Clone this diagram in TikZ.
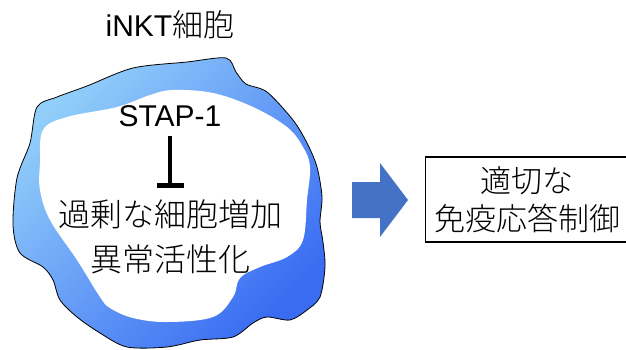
\documentclass[tikz,border=0pt]{standalone}
\usepackage{fontspec}
\setmainfont{Liberation Sans}
\IfFontExistsTF{Noto Sans CJK JP Light}
  {\newfontfamily\jp{Noto Sans CJK JP Light}}
  {\newfontfamily\jp{Noto Sans CJK JP}}
\usetikzlibrary{arrows.meta}
\definecolor{celllight}{RGB}{146,206,250}
\definecolor{celldark}{RGB}{58,108,242}
\definecolor{stepblue}{RGB}{68,114,196}
\tikzset{
  label/.style={inner sep=0pt, font=\fontsize{30}{36}\selectfont},
  jlabel/.style={inner sep=0pt, font=\jp\fontsize{32}{38}\selectfont},
  inhibit/.style={-{Bar[width=27pt, line width=5pt]}, line width=4pt},
  outcome/.style={draw, line width=1.5pt, align=center, inner sep=0pt,
    minimum width=203pt, minimum height=85pt,
    font=\jp\fontsize{31}{38}\selectfont}
}

\begin{document}
\begin{tikzpicture}[x=1pt, y=-1pt]
  \useasboundingbox (0,0) rectangle (626,349);
  % cell body
  \shade[draw=black, line width=0.8pt, top color=celllight, bottom color=celldark,
    shading angle=45]
    plot[smooth cycle, tension=0.5] coordinates {
      (37,107) (57,97) (87,86) (133,68) (187,62) (226,58) (236,72) (246,84)
      (267,92) (293,120) (307,143) (317,167) (322,197) (320,222) (323,242)
      (325,267) (320,297) (307,310) (290,320) (267,317) (253,323) (233,337)
      (200,340) (167,347) (127,347) (100,333) (77,317) (60,300) (53,280)
      (43,267) (20,253) (13,225) (17,178) (30,143)};
  \fill[white]
    plot[smooth cycle, tension=0.6] coordinates {
      (43,130) (67,117) (117,107) (150,95) (173,90) (213,93) (253,107)
      (287,127) (303,147) (310,167) (307,200) (303,240) (287,257) (260,267)
      (240,278) (233,297) (213,317) (167,322) (133,318) (110,308) (100,297)
      (77,260) (50,220) (40,190) (40,163)};

  \node[label] (title) at (170,25) {iNKT{\jp\fontsize{31}{36}\selectfont 細胞}};
  \node[label] (stap) at (170,116) {STAP-1};
  \node[jlabel] (prolif) at (170,214) {過剰な細胞増加};
  \node[jlabel] (activ) at (170,259) {異常活性化};
  \draw[inhibit, shorten <=9pt, shorten >=11pt] (stap.south) -- (prolif.north);

  % block arrow
  \fill[stepblue] (352,182) -- (380,182) -- (380,163) -- (408,200)
    -- (380,237) -- (380,218) -- (352,218) -- cycle;

  \node[outcome] (ctrl) at (527,199.5) {適切な\\免疫応答制御};
\end{tikzpicture}
\end{document}
